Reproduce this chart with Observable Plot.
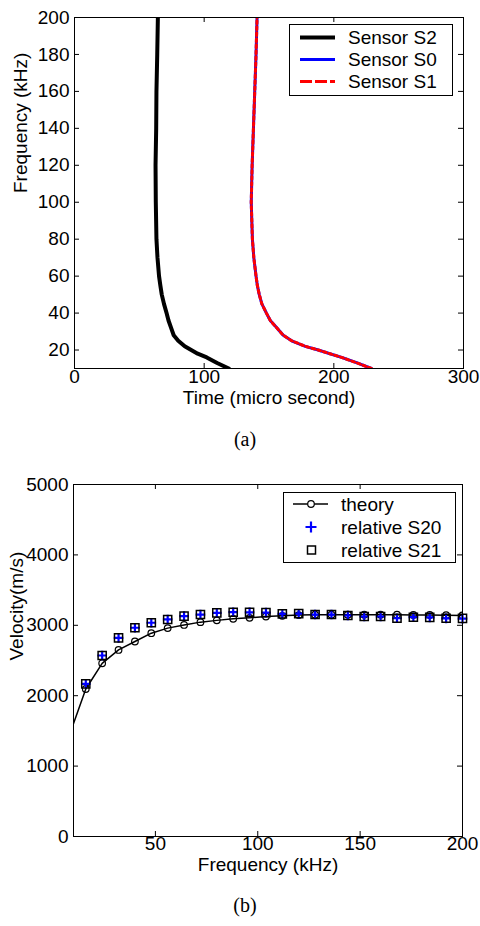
<!DOCTYPE html>
<html>
<head>
<meta charset="utf-8">
<script src="https://cdn.jsdelivr.net/npm/d3@7"></script>
<script src="https://cdn.jsdelivr.net/npm/@observablehq/plot@0.6"></script>
<style>
  html, body { margin: 0; padding: 0; background: white; }
  #wrap { width: 480px; height: 926px; }
  #wrap svg { display: block; }
</style>
</head>
<body>
<div id="wrap"></div>
<script>
// ---------- Panel (a): arrival time vs frequency ----------
const freqA   = [10, 13, 16, 18, 20, 22, 25, 28, 32, 36, 40, 45, 50, 55, 60, 70, 80, 100, 120, 140, 160, 180, 200];
const timeS2  = [119, 110, 102, 95, 90, 85, 80, 76.5, 74.5, 72.5, 71, 69, 67.3, 66.2, 65.2, 64, 63.2, 62.7, 62.5, 63, 63.2, 63.8, 64.3];
const timeS0  = [229, 218, 206, 197, 188, 178, 167.5, 161, 156, 151, 148, 144.5, 142.5, 141, 140, 138.3, 137.2, 136.3, 137, 138, 139, 140, 140.8];
const timeS1  = [229, 218, 206, 197, 188, 178, 167.5, 161, 156, 151, 148, 144.5, 142.5, 141, 140, 138.3, 137.2, 136.3, 137, 138, 139, 140, 140.8];
const xTicksA = [0, 100, 200, 300];
const yTicksA = [20, 40, 60, 80, 100, 120, 140, 160, 180, 200];
const legendA = ["Sensor S2", "Sensor S0", "Sensor S1"];

// ---------- Panel (b): velocity vs frequency ----------
const freqTheory = [8, 16, 24, 32, 40, 48, 56, 64, 72, 80, 88, 96, 104, 112, 120, 128, 136, 144, 152, 160, 168, 176, 184, 192, 200];
const velTheory  = [1440, 2095, 2460, 2650, 2770, 2888, 2960, 3005, 3045, 3070, 3092, 3106, 3125, 3135, 3145, 3150, 3150, 3150, 3150, 3150, 3150, 3148, 3146, 3144, 3140];
const freqMeas   = [16, 24, 32, 40, 48, 56, 64, 72, 80, 88, 96, 104, 112, 120, 128, 136, 144, 152, 160, 168, 176, 184, 192, 200];
const velS20     = [2169, 2571, 2822, 2965, 3036, 3083, 3130, 3153, 3177, 3186, 3183, 3180, 3163, 3165, 3153, 3153, 3139, 3125, 3125, 3100, 3115, 3112, 3098, 3095];
const velS21     = [2169, 2571, 2822, 2965, 3036, 3083, 3130, 3153, 3177, 3186, 3183, 3180, 3163, 3165, 3153, 3153, 3139, 3125, 3125, 3100, 3115, 3112, 3100, 3098];
const xTicksB = [50, 100, 150, 200];
const yTicksB = [0, 1000, 2000, 3000, 4000, 5000];
const legendB = ["theory", "relative S20", "relative S21"];

const FONT = "'Liberation Sans', Arial, Helvetica, sans-serif";
const SERIF = "'Liberation Serif', 'Times New Roman', serif";

const s2 = freqA.map((f, i) => ({f, t: timeS2[i]}));
const s0 = freqA.map((f, i) => ({f, t: timeS0[i]}));
const s1 = freqA.map((f, i) => ({f, t: timeS1[i]}));

const plotA = Plot.plot({
  width: 480, height: 460,
  marginTop: 17, marginRight: 17, marginBottom: 92, marginLeft: 74,
  style: {fontFamily: FONT, fontSize: "19px", background: "white", color: "black"},
  x: {domain: [0, 300], axis: null},
  y: {domain: [10, 200], axis: null},
  marks: [
    Plot.line(s2, {x: "t", y: "f", stroke: "black", strokeWidth: 4, clip: true}),
    Plot.line(s0, {x: "t", y: "f", stroke: "#0000ff", strokeWidth: 3, clip: true}),
    Plot.line(s1, {x: "t", y: "f", stroke: "#ff0000", strokeWidth: 3, strokeDasharray: "3,3", clip: true}),
    Plot.frame({stroke: "black", strokeWidth: 1}),
    Plot.tickX(xTicksA, {x: d => d, stroke: "black", insetTop: 346}),
    Plot.tickX(xTicksA, {x: d => d, stroke: "black", insetBottom: 346}),
    Plot.tickY(yTicksA, {y: d => d, stroke: "black", insetRight: 384}),
    Plot.tickY(yTicksA, {y: d => d, stroke: "black", insetLeft: 384}),
    Plot.text(xTicksA, {x: d => d, text: d => String(d), frameAnchor: "bottom", dy: 14, fontSize: 19}),
    Plot.text(yTicksA, {y: d => d, text: d => String(d), frameAnchor: "left", textAnchor: "end", dx: -5, fontSize: 19}),
    Plot.text(["Time (micro second)"], {text: d => d, frameAnchor: "bottom", dy: 35, fontSize: 19}),
    Plot.text(["Frequency (kHz)"], {text: d => d, frameAnchor: "left", rotate: -90, dx: -54, fontSize: 19}),
    Plot.text(["(a)"], {text: d => d, frameAnchor: "bottom", dy: 77, dx: -24, fontSize: 20, fontFamily: SERIF})
  ]
});

const theory = freqTheory.map((f, i) => ({f, v: velTheory[i]}));
const m20 = freqMeas.map((f, i) => ({f, v: velS20[i]}));
const m21 = freqMeas.map((f, i) => ({f, v: velS21[i]}));

const plotB = Plot.plot({
  width: 480, height: 466,
  marginTop: 24, marginRight: 18, marginBottom: 90, marginLeft: 73,
  style: {fontFamily: FONT, fontSize: "19px", background: "white", color: "black"},
  x: {domain: [10, 200], axis: null},
  y: {domain: [0, 5000], axis: null},
  marks: [
    Plot.line(theory, {x: "f", y: "v", stroke: "black", strokeWidth: 1.5, clip: true}),
    Plot.dot(theory, {x: "f", y: "v", symbol: "circle", r: 3.3, stroke: "black", strokeWidth: 1.2, fill: "none", clip: true}),
    Plot.dot(m20, {x: "f", y: "v", symbol: "plus", r: 3.2, stroke: "#0000ff", strokeWidth: 2.2, fill: "none"}),
    Plot.dot(m21, {x: "f", y: "v", symbol: "square", r: 4.6, stroke: "black", strokeWidth: 1.5, fill: "none"}),
    Plot.frame({stroke: "black", strokeWidth: 1}),
    Plot.tickX(xTicksB, {x: d => d, stroke: "black", insetTop: 347}),
    Plot.tickX(xTicksB, {x: d => d, stroke: "black", insetBottom: 347}),
    Plot.tickY(yTicksB, {y: d => d, stroke: "black", insetRight: 384}),
    Plot.tickY(yTicksB, {y: d => d, stroke: "black", insetLeft: 384}),
    Plot.text(xTicksB, {x: d => d, text: d => String(d), frameAnchor: "bottom", dy: 13, fontSize: 19}),
    Plot.text(yTicksB, {y: d => d, text: d => String(d), frameAnchor: "left", textAnchor: "end", dx: -5, fontSize: 19}),
    Plot.text(["Frequency (kHz)"], {text: d => d, frameAnchor: "bottom", dy: 34, fontSize: 19}),
    Plot.text(["Velocity(m/s)"], {text: d => d, frameAnchor: "left", rotate: -90, dx: -57, fontSize: 19}),
    Plot.text(["(b)"], {text: d => d, frameAnchor: "bottom", dy: 75, dx: -23, fontSize: 20, fontFamily: SERIF})
  ]
});

// ---------- Legends ----------
function legendBox(svg, x, y, w, h) {
  svg.append("rect").attr("x", x).attr("y", y).attr("width", w).attr("height", h)
    .attr("fill", "white").attr("stroke", "black").attr("stroke-width", 1);
}
function legendText(svg, x, y, s) {
  svg.append("text").attr("x", x).attr("y", y).attr("dy", "0.35em")
    .attr("text-anchor", "start")
    .attr("font-family", FONT).attr("font-size", 19).attr("fill", "black").text(s);
}

const sa = d3.select(plotA);
legendBox(sa, 289.5, 24.5, 163, 71);
const rowsA = [37.5, 59.5, 81.5];
sa.append("line").attr("x1", 300).attr("x2", 335).attr("y1", rowsA[0]).attr("y2", rowsA[0]).attr("stroke", "black").attr("stroke-width", 4);
sa.append("line").attr("x1", 300).attr("x2", 335).attr("y1", rowsA[1]).attr("y2", rowsA[1]).attr("stroke", "#0000ff").attr("stroke-width", 3);
sa.append("line").attr("x1", 300).attr("x2", 335).attr("y1", rowsA[2]).attr("y2", rowsA[2]).attr("stroke", "#ff0000").attr("stroke-width", 3).attr("stroke-dasharray", "12,3");
legendA.forEach((s, i) => legendText(sa, 348, rowsA[i], s));

const sb = d3.select(plotB);
legendBox(sb, 283.5, 32.5, 172, 70);
const rowsB = [44, 67, 90];
sb.append("line").attr("x1", 293).attr("x2", 328).attr("y1", rowsB[0]).attr("y2", rowsB[0]).attr("stroke", "black").attr("stroke-width", 1.5);
sb.append("circle").attr("cx", 311).attr("cy", rowsB[0]).attr("r", 3.3).attr("fill", "white").attr("stroke", "black").attr("stroke-width", 1.2);
sb.append("path").attr("d", `M305.5,${rowsB[1]}h11M311,${rowsB[1]-5.5}v11`).attr("stroke", "#0000ff").attr("stroke-width", 2.2).attr("fill", "none");
sb.append("rect").attr("x", 307.5).attr("y", rowsB[2] - 4).attr("width", 8).attr("height", 8).attr("fill", "none").attr("stroke", "black").attr("stroke-width", 1.5);
legendB.forEach((s, i) => legendText(sb, 341, rowsB[i], s));

const wrap = document.getElementById("wrap");
wrap.appendChild(plotA);
wrap.appendChild(plotB);
</script>
</body>
</html>
